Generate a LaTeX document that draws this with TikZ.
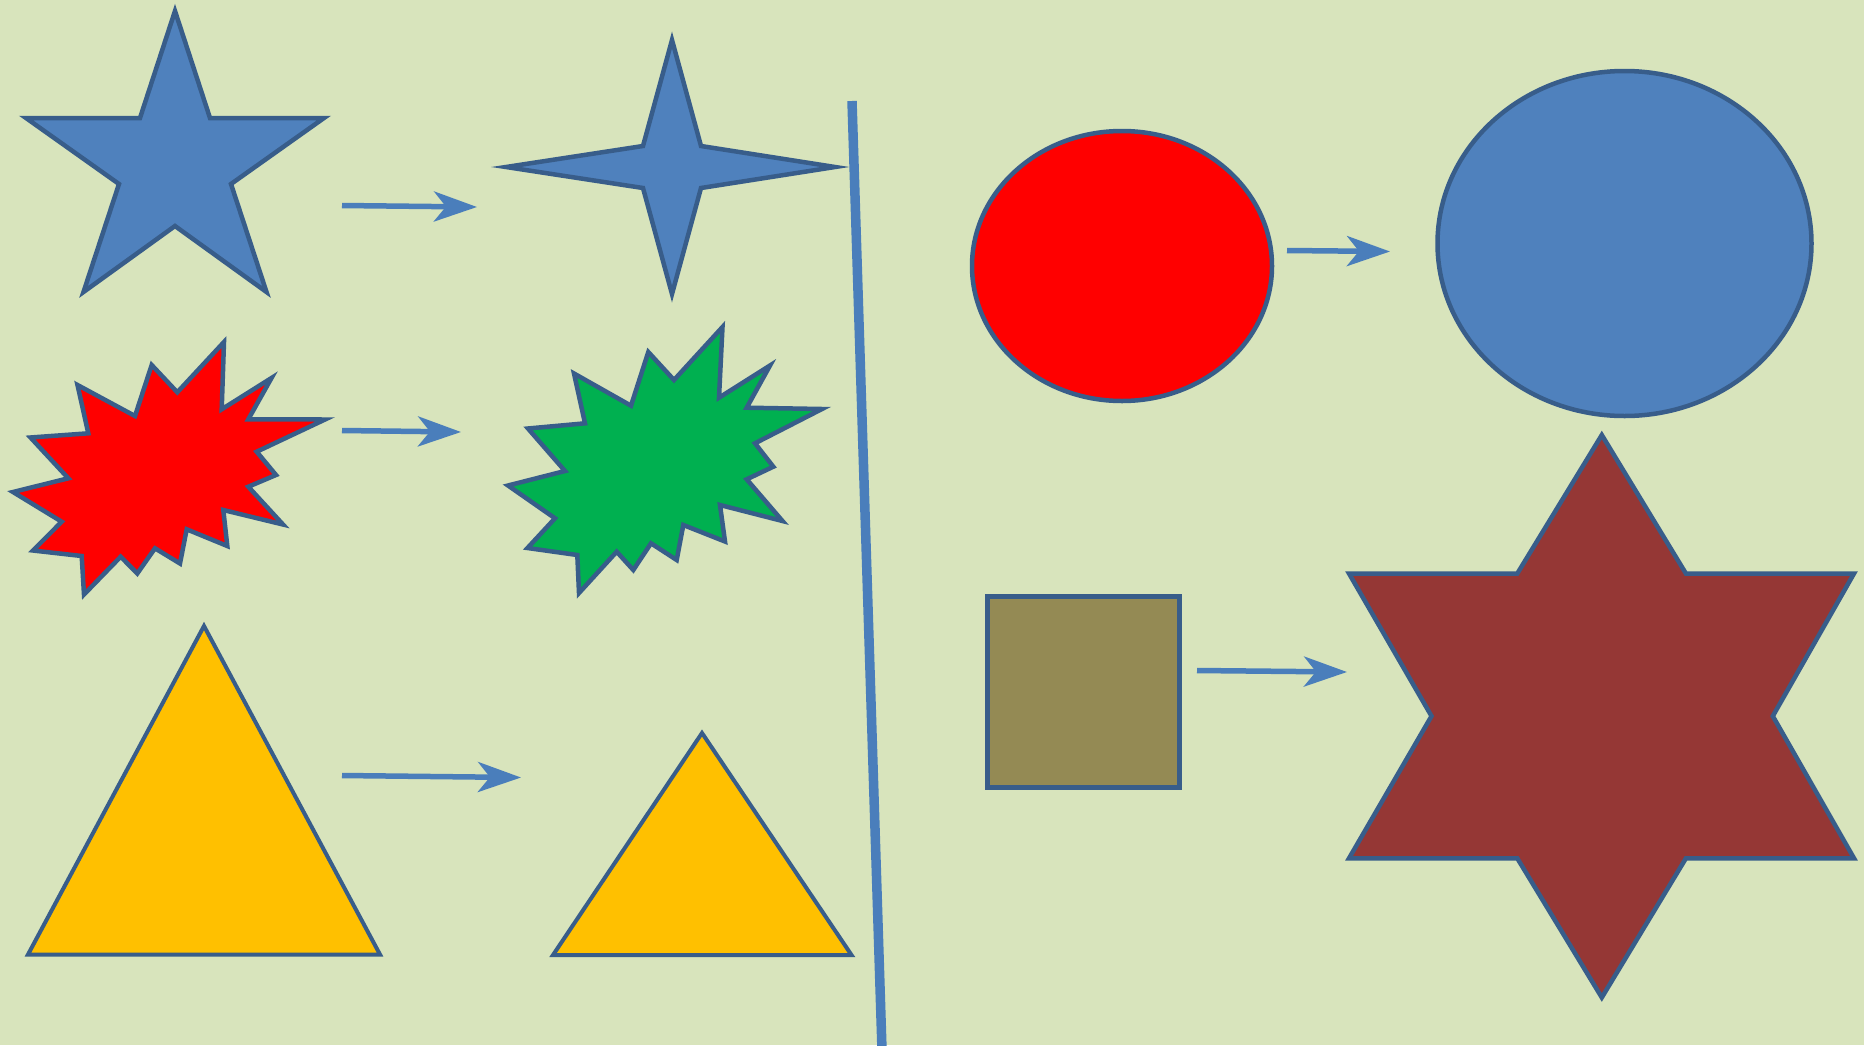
\documentclass[tikz,border=0pt]{standalone}
\usetikzlibrary{arrows.meta}
\definecolor{bgc}{HTML}{D8E4BC}
\definecolor{fillblue}{HTML}{4F81BD}
\definecolor{strokeblue}{HTML}{385D8A}
\definecolor{arrowblue}{HTML}{4A7EBB}
\definecolor{burstgreen}{HTML}{00B050}
\definecolor{triyellow}{HTML}{FFC000}
\definecolor{sqolive}{HTML}{948A54}
\definecolor{darkred}{HTML}{953735}
\tikzset{
  shapeline/.style={draw=strokeblue, line width=4.5pt, line join=miter, miter limit=12},
  flow/.style={draw=arrowblue, line width=5.5pt,
    -{Stealth[length=43pt, width=30pt, inset=12pt]}},
  divider/.style={draw=arrowblue, line width=9.5pt}
}
\begin{document}
\begin{tikzpicture}[x=1pt, y=-1pt]
\fill[bgc] (0,0) rectangle (1864,1045);
\useasboundingbox (0,0) rectangle (1864,1045);
\clip (0,0) rectangle (1864,1045);

% five-point star
\draw[shapeline, fill=fillblue]
  (175,11) -- (210,118) -- (324,118) -- (231,184) -- (266.5,292) -- (175,226)
  -- (83.5,292) -- (119,184) -- (26,118) -- (140,118) -- cycle;

% four-point star
\draw[shapeline, fill=fillblue]
  (672,40) -- (701,146) -- (835,167) -- (701,188) -- (672,294)
  -- (643,188) -- (506,167) -- (643,146) -- cycle;

% red burst
\draw[shapeline, fill=red]
  (13,492) -- (68.3,478.3) -- (30.5,437.5) -- (88.3,433.3) -- (77.5,385)
  -- (135,416) -- (151.7,365) -- (177.3,392.3) -- (224,342) -- (221.7,409.3)
  -- (271.5,378) -- (248.3,419.3) -- (325,419.5) -- (256.7,451.7) -- (276,475)
  -- (248.3,486.7) -- (283,524.5) -- (223.3,510) -- (227.3,546) -- (186.7,529.3)
  -- (180,563.5) -- (155,548.3) -- (137.3,573.5) -- (120.7,556.7) -- (84,594.5)
  -- (81.7,556) -- (33,550.5) -- (61.7,521.7) -- cycle;

% green burst
\draw[shapeline, fill=burstgreen]
  (508,485.5) -- (565,471) -- (528,428.5) -- (585,423.3) -- (574,373.5)
  -- (631,405.7) -- (648.3,352) -- (674,380) -- (722.5,327) -- (719,397.7)
  -- (770,365.5) -- (746.7,407.7) -- (822,409) -- (755,443.3) -- (773.3,466.7)
  -- (746.7,479.3) -- (782.5,521) -- (720,505) -- (725,541.5) -- (683.3,525)
  -- (676.7,560) -- (651,543.3) -- (633.3,570) -- (616.7,551.7) -- (579,593)
  -- (577.3,555) -- (527.5,548) -- (555,518.3) -- cycle;

% triangles
\draw[shapeline, line width=4pt, fill=triyellow]
  (204,626) -- (380,954.5) -- (28,954.5) -- cycle;
\draw[shapeline, line width=4pt, fill=triyellow]
  (702,733) -- (851.5,955) -- (553,955) -- cycle;

% divider line
\draw[divider] (852,101) -- (882,1050);

% ellipses
\draw[shapeline, fill=red] (1122,266) ellipse [x radius=150pt, y radius=135pt];
\draw[shapeline, fill=fillblue] (1624.5,243.5) ellipse [x radius=187pt, y radius=172.5pt];

% square
\draw[shapeline, line width=5pt, fill=sqolive] (987,596) rectangle (1179,787.5);

% six-point star
\draw[shapeline, fill=darkred]
  (1601.8,435) -- (1685.9,573.5) -- (1854,573.5) -- (1772.8,716.1)
  -- (1854,858.3) -- (1685.9,858.3) -- (1601.8,997.5) -- (1517.3,858.3)
  -- (1349,858.3) -- (1431.5,716.1) -- (1349,573.5) -- (1517.3,573.5) -- cycle;

% arrows
\coordinate (a1s) at (342,205.5);  \coordinate (a1e) at (477,207);
\coordinate (a2s) at (342,430.5);  \coordinate (a2e) at (461,432);
\coordinate (a3s) at (342,775.5);  \coordinate (a3e) at (521,777.5);
\coordinate (a4s) at (1287,250.5); \coordinate (a4e) at (1390,251.5);
\coordinate (a5s) at (1197,670.5); \coordinate (a5e) at (1347,672);
\draw[flow] (a1s) -- (a1e);
\draw[flow] (a2s) -- (a2e);
\draw[flow] (a3s) -- (a3e);
\draw[flow] (a4s) -- (a4e);
\draw[flow] (a5s) -- (a5e);
\end{tikzpicture}
\end{document}
